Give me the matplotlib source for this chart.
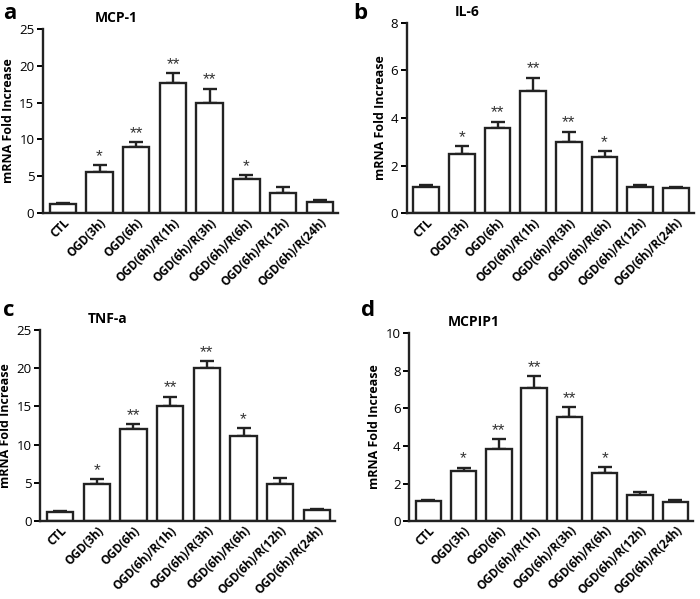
import matplotlib.pyplot as plt
import matplotlib.transforms as mtransforms
import numpy as np

plt.rcParams['font.family'] = ['Open Sans', 'DejaVu Sans']

groups = ['CTL', 'OGD(3h)', 'OGD(6h)', 'OGD(6h)/R(1h)', 'OGD(6h)/R(3h)',
          'OGD(6h)/R(6h)', 'OGD(6h)/R(12h)', 'OGD(6h)/R(24h)']

mcp1 = [1.2, 5.6, 9.0, 17.7, 14.9, 4.6, 2.8, 1.5]
mcp1_err = [0.15, 0.9, 0.6, 1.3, 2.0, 0.6, 0.7, 0.3]
il6 = [1.1, 2.5, 3.6, 5.15, 3.0, 2.35, 1.12, 1.05]
il6_err = [0.07, 0.33, 0.25, 0.55, 0.43, 0.28, 0.08, 0.05]
tnfa = [1.2, 4.8, 12.0, 15.1, 20.1, 11.2, 4.8, 1.4]
tnfa_err = [0.1, 0.7, 0.7, 1.2, 0.9, 1.0, 0.8, 0.2]
mcpip1 = [1.05, 2.65, 3.85, 7.1, 5.55, 2.55, 1.38, 1.0]
mcpip1_err = [0.05, 0.2, 0.5, 0.6, 0.5, 0.35, 0.15, 0.1]

stars = ['', '*', '**', '**', '**', '*', '', '']

panels = [
    # letter, title, values, errors, ymax, ystep, axes rect, title x
    ('a', 'MCP-1', mcp1, mcp1_err, 25, 5, [0.061, 0.644, 0.422, 0.308], 0.25),
    ('b', 'IL-6', il6, il6_err, 8, 2, [0.581, 0.644, 0.410, 0.318], 0.21),
    ('c', 'TNF-a', tnfa, tnfa_err, 25, 5, [0.057, 0.130, 0.422, 0.319], 0.23),
    ('d', 'MCPIP1', mcpip1, mcpip1_err, 10, 2, [0.584, 0.130, 0.406, 0.314], 0.23),
]

fig = plt.figure(figsize=(7, 5.99), dpi=100)
shift = mtransforms.ScaledTranslation(4 / 72, 0, fig.dpi_scale_trans)

for letter, title, vals, errs, ymax, ystep, rect, tx in panels:
    ax = fig.add_axes(rect)
    x = np.arange(len(groups))
    ax.bar(x, vals, width=0.72, color='white', edgecolor='#222222', linewidth=1.7, zorder=2)
    ax.errorbar(x, vals, yerr=[np.zeros(len(vals)), errs], fmt='none',
                ecolor='#222222', elinewidth=1.7, capsize=5, capthick=1.7, zorder=1)
    for xi, v, e, s in zip(x, vals, errs, stars):
        if s:
            ax.text(xi, v + e + ymax * 0.005, s, ha='center', va='bottom', fontsize=12.5,
                    color='#333333', family=['Liberation Sans'])
    ax.set_xlim(-0.55, 7.5)
    ax.set_ylim(0, ymax)
    ax.set_yticks(np.arange(0, ymax + 0.01, ystep))
    ax.set_xticks(x)
    ax.set_xticklabels(groups, rotation=45, ha='right', rotation_mode='anchor',
                       fontsize=8.5, fontweight='bold')
    for lab in ax.get_xticklabels():
        lab.set_transform(lab.get_transform() + shift)
    ax.tick_params(axis='x', length=0, pad=2)
    ax.tick_params(axis='y', length=4, width=1.4, labelsize=9.5, pad=2)
    ax.set_ylabel('mRNA Fold Increase', fontsize=9, fontweight='bold', labelpad=3)
    for sp in ['top', 'right']:
        ax.spines[sp].set_visible(False)
    for sp in ['left', 'bottom']:
        ax.spines[sp].set_linewidth(1.7)
        ax.spines[sp].set_color('#222222')
    ax.text(tx, 1.02, title, transform=ax.transAxes, ha='center', va='bottom',
            fontsize=10, fontweight='bold')

fig.text(0.005, 0.995, 'a', fontsize=16, fontweight='bold', va='top')
fig.text(0.505, 0.995, 'b', fontsize=16, fontweight='bold', va='top')
fig.text(0.005, 0.500, 'c', fontsize=16, fontweight='bold', va='top')
fig.text(0.515, 0.500, 'd', fontsize=16, fontweight='bold', va='top')

fig.savefig('out.png', dpi=100)
